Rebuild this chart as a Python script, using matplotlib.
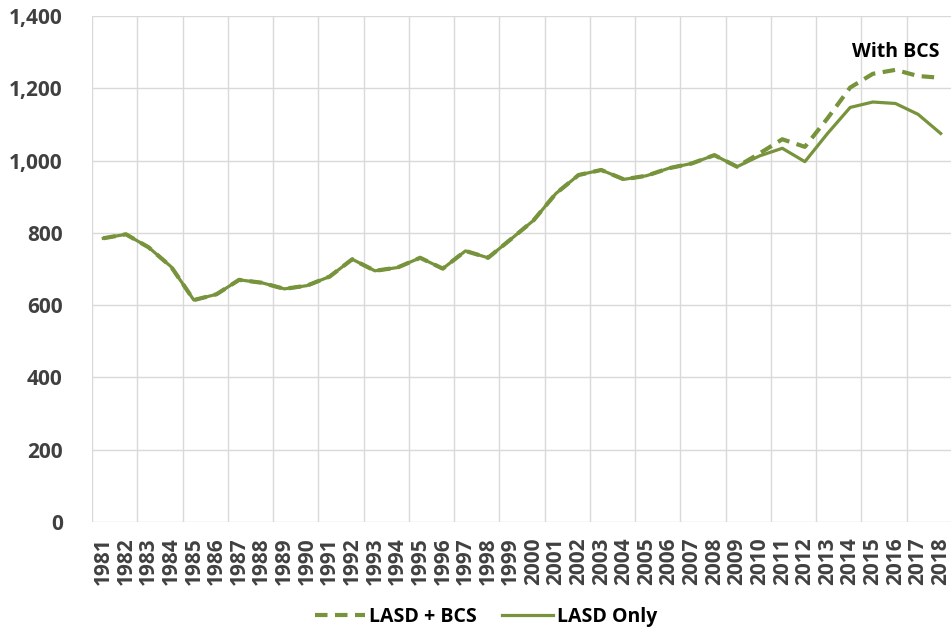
import matplotlib
matplotlib.use("Agg")
import matplotlib.pyplot as plt
import numpy as np

years = list(range(1981, 2019))
lasd_only = [785, 796, 760, 706, 614, 630, 670, 662, 645, 654,
             679, 727, 695, 704, 731, 701, 750, 731, 782, 834,
             909, 960, 974, 948, 958, 979, 992, 1015, 983, 1013,
             1034, 997, 1075, 1147, 1162, 1158, 1128, 1075]
lasd_bcs = [785, 796, 760, 706, 614, 630, 670, 662, 645, 654,
            679, 727, 695, 704, 731, 701, 750, 731, 782, 834,
            909, 960, 974, 948, 958, 979, 992, 1015, 983, 1020,
            1059, 1038, 1117, 1202, 1240, 1251, 1234, 1229]
y_ticks = [0, 200, 400, 600, 800, 1000, 1200, 1400]

plt.rcParams['font.family'] = ['Open Sans', 'DejaVu Sans']
plt.rcParams['font.weight'] = 'bold'

W, H = 951, 629
fig = plt.figure(figsize=(W/100, H/100), dpi=100)
ax = fig.add_axes([92/W, 1-522/H, (952-92)/W, (522-16)/H])

green = '#77933C'
x = np.arange(len(years))
ax.plot(x, lasd_bcs, color=green, lw=3.0, dashes=(3.0, 1.8), label='LASD + BCS', zorder=3)
ax.plot(x, lasd_only, color=green, lw=2.3, label='LASD Only', zorder=4)

ax.set_xlim(-0.5, len(years) - 0.5)
ax.set_ylim(0, 1400)
ax.set_yticks(y_ticks)
ax.set_yticklabels([f"{v:,}" for v in y_ticks], fontweight='bold')
ax.set_xticks(x)
ax.set_xticklabels([str(y) for y in years], rotation=90, fontweight='bold')

# gridlines
for gx in np.arange(-0.5, len(years), 2):
    ax.axvline(gx, color='#D9D9D9', lw=1.0, zorder=1)
for gy in y_ticks:
    ax.axhline(gy, color='#D9D9D9', lw=1.0, zorder=1)

for s in ax.spines.values():
    s.set_visible(False)
ax.tick_params(axis='both', length=0, colors='#404040', labelsize=15)
ax.tick_params(axis='y', pad=21)
ax.tick_params(axis='x', pad=11)

ax.text(35.0, 1300, 'With BCS', ha='center', va='center',
        fontsize=14, fontweight='bold', color='black')

leg = fig.legend(loc='center', bbox_to_anchor=(486/W, 1-617/H), ncol=2,
                 frameon=False, fontsize=14, handlelength=2.6,
                 columnspacing=1.3, handletextpad=0.2, borderpad=0)
for t in leg.get_texts():
    t.set_fontweight('bold')
    t.set_color('black')

fig.savefig('out.png', dpi=100)
